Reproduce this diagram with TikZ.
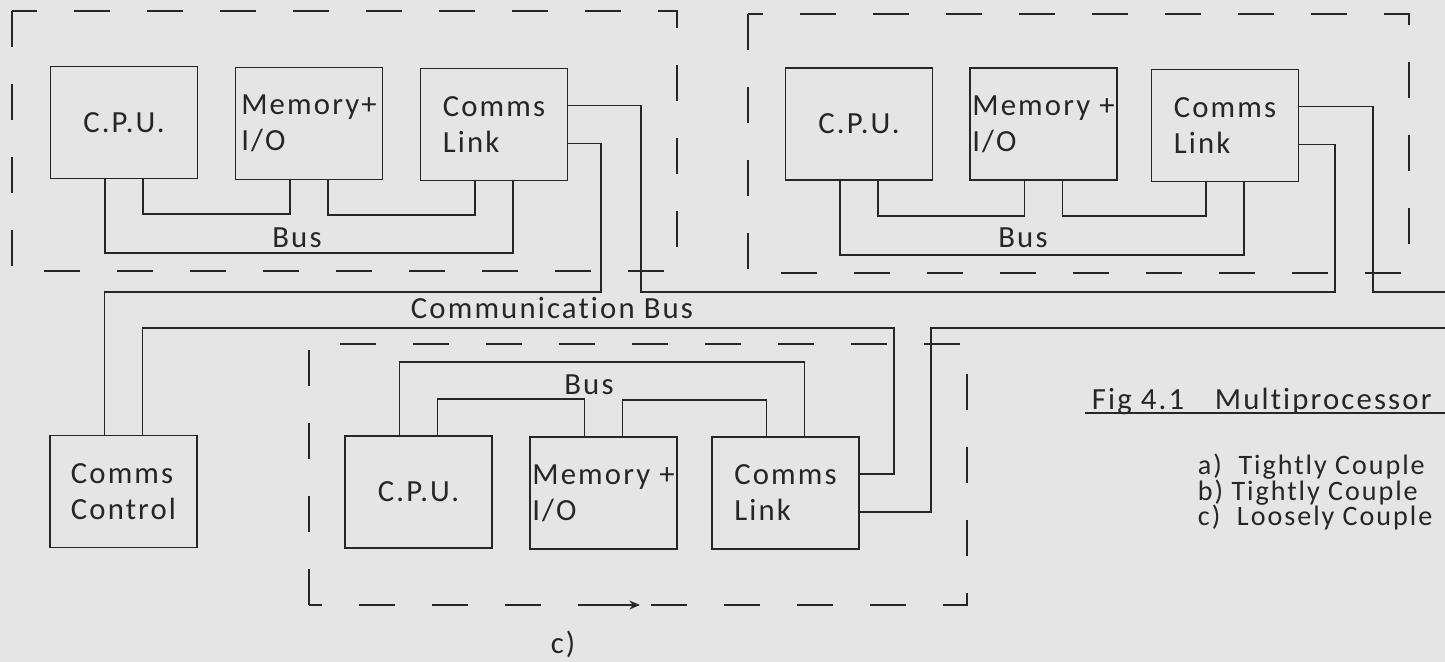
\documentclass[tikz,border=0pt]{standalone}
\usepackage{fontspec}
\setmainfont{Carlito}[LetterSpace=7.0,Ligatures=NoCommon]
\usetikzlibrary{arrows.meta}
\begin{document}
\begin{tikzpicture}[x=0.02cm,y=-0.02cm,line width=1.1pt,color=black!85,
    font=\fontsize{17.5}{20.5}\selectfont,
    unit/.style={draw,minimum width=2.94cm,minimum height=2.24cm,align=left,inner sep=0pt},
    frame/.style={dash pattern=on 0.72cm off 0.74cm}]
  \useasboundingbox (0,0) rectangle (1445,662);
  \fill[black!10] (0,0) rectangle (1445,662);
  \draw[frame] (12,11) rectangle (677,271);
  \draw[frame] (748,14) rectangle (1409,273);
  \draw[frame] (309,605) rectangle (967,344);
  \draw[-{Stealth[length=6pt,width=5pt]}] (606,605) -- (640,605);
  \node[unit] (A1) at (124,122.5) {C.P.U.};
  \node[unit] (A2) at (309,123.5) {Memory+\\I/O};
  \node[unit] (A3) at (494,124.5) {Comms\\Link};
  \node[unit] (B1) at (859,124) {C.P.U.};
  \node[unit] (B2) at (1043.5,124) {Memory +\\I/O};
  \node[unit] (B3) at (1225,125.5) {Comms\\Link};
  \node[unit] (K) at (123.5,491.5) {Comms\\Control};
  \node[unit] (C1) at (418.5,492) {C.P.U.};
  \node[unit] (C2) at (603.5,493) {Memory +\\I/O};
  \node[unit] (C3) at (785.5,493) {Comms\\Link};
  \draw ([xshift=.38cm]A1.south) -- ++(0,35) -| ([xshift=-.38cm]A2.south);
  \draw ([xshift=.38cm]A2.south) -- ++(0,35) -| ([xshift=-.38cm]A3.south);
  \draw ([xshift=-.38cm]A1.south) -- ++(0,74) -| ([xshift=.38cm]A3.south);
  \draw ([xshift=.38cm]B1.south) -- ++(0,35) -| ([xshift=-.38cm]B2.south);
  \draw ([xshift=.38cm]B2.south) -- ++(0,35) -| ([xshift=-.38cm]B3.south);
  \draw ([xshift=-.38cm]B1.south) -- ++(0,74) -| ([xshift=.38cm]B3.south);
  \draw ([xshift=.38cm]C1.north) -- ++(0,-36) -| ([xshift=-.38cm]C2.north);
  \draw ([xshift=.38cm]C2.north) -- ++(0,-36) -| ([xshift=-.38cm]C3.north);
  \draw ([xshift=-.38cm]C1.north) -- ++(0,-73) -| ([xshift=.38cm]C3.north);
  \node (busA) at (297,238) {Bus};
  \node (busB) at (1023,238) {Bus};
  \node (busC) at (589,385) {Bus};
  \coordinate (outA) at (1445,292);
  \coordinate (outB) at (1445,328);
  \draw ([xshift=-.38cm]K.north) |- (601,292) |- ([yshift=-.38cm]A3.east);
  \draw ([yshift=.38cm]A3.east) -- ++(73,0) |- (1335,292) |- ([yshift=-.38cm]B3.east);
  \draw ([yshift=.38cm]B3.east) -- ++(74,0) |- (outA);
  \draw ([xshift=.38cm]K.north) |- (894,328) |- ([yshift=.38cm]C3.east);
  \draw ([yshift=-.38cm]C3.east) -- ++(71,0) |- (outB);
  \node (cbus) at (552,308) {Communication Bus};
  \node (lbl) at (563,644) {c)};
  \node[anchor=base west] (fig) at (1085,410) {Fig 4.1\quad Multiprocessor};
  \coordinate (uline) at (1445,413);
  \draw (fig.base west) ++(0,3) -- (uline);
  \node[anchor=north west,align=left,inner sep=0pt,font=\fontsize{16}{15.5}\selectfont]
    (cpl) at (1197,453) {a)~~Tightly Couple\\[-1pt]b)~Tightly Couple\\[-1pt]c)~~Loosely Couple};
\end{tikzpicture}
\end{document}
